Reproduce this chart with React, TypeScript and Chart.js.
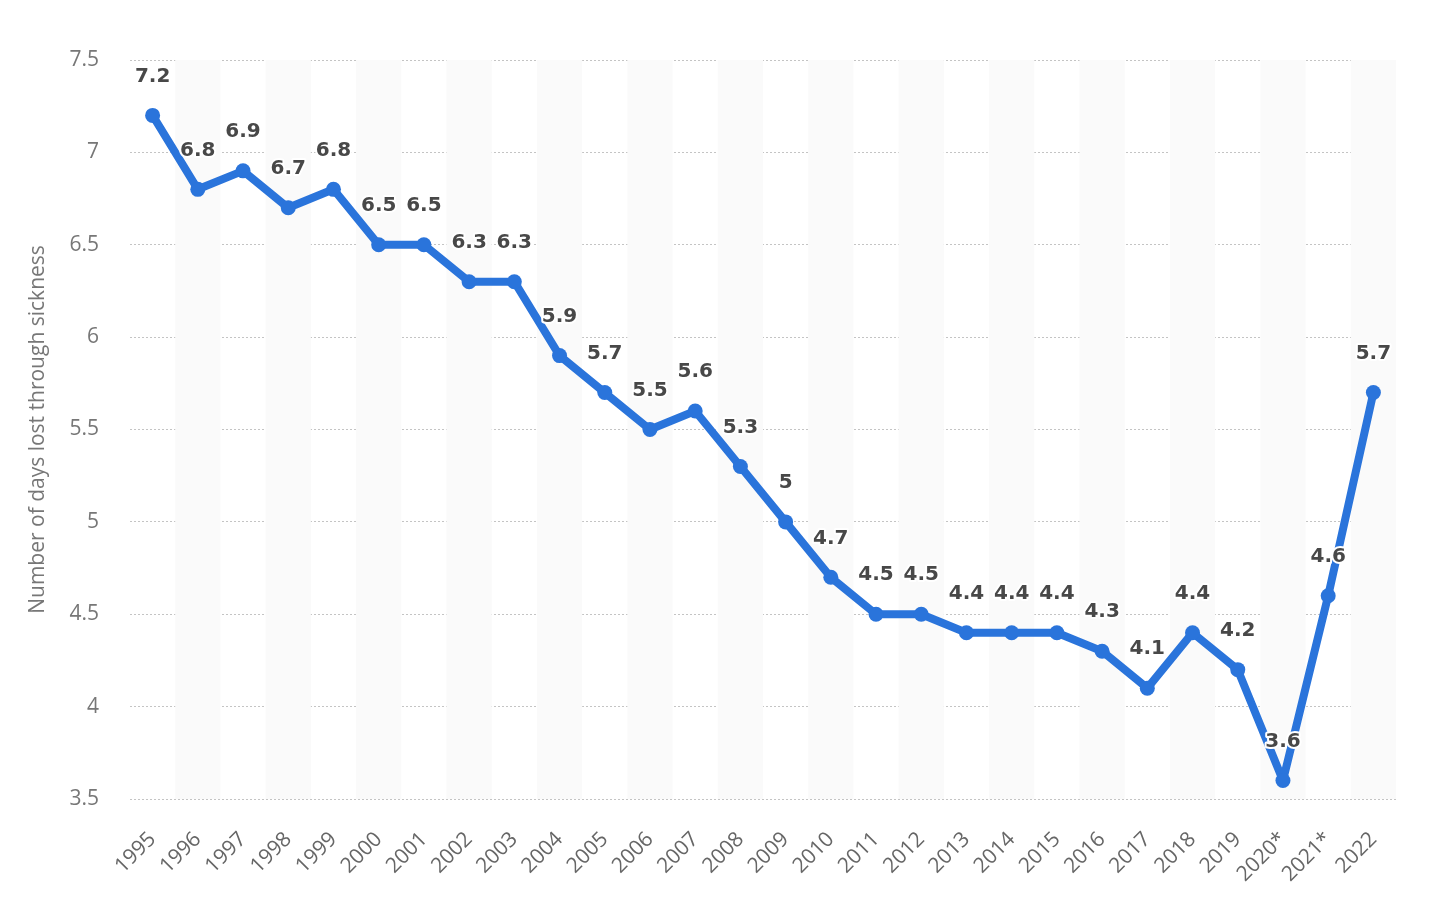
import React, { useEffect, useRef } from "react";
import { Chart, registerables } from "chart.js";

Chart.register(...registerables);

const years = [
  "1995", "1996", "1997", "1998", "1999", "2000", "2001", "2002", "2003", "2004",
  "2005", "2006", "2007", "2008", "2009", "2010", "2011", "2012", "2013", "2014",
  "2015", "2016", "2017", "2018", "2019", "2020*", "2021*", "2022",
];
const daysLost = [
  7.2, 6.8, 6.9, 6.7, 6.8, 6.5, 6.5, 6.3, 6.3, 5.9,
  5.7, 5.5, 5.6, 5.3, 5.0, 4.7, 4.5, 4.5, 4.4, 4.4,
  4.4, 4.3, 4.1, 4.4, 4.2, 3.6, 4.6, 5.7,
];
const yTitle = "Number of days lost through sickness";
const yMin = 3.5;
const yMax = 7.5;
const yStep = 0.5;

const FONT = "'Open Sans', sans-serif";
const LABEL_FONT = "'DejaVu Sans', sans-serif";

const stripePlugin = {
  id: "stripes",
  beforeDatasetsDraw(chart: any) {
    const { ctx, chartArea, scales } = chart;
    const x = scales.x;
    const n = x.ticks.length;
    const w = (chartArea.right - chartArea.left) / n;
    ctx.save();
    ctx.fillStyle = "#fafafa";
    for (let i = 1; i < n; i += 2) {
      const cx = x.getPixelForValue(i);
      ctx.fillRect(cx - w / 2, chartArea.top, w, chartArea.bottom - chartArea.top);
    }
    ctx.restore();
  },
};

const labelPlugin = {
  id: "valueLabels",
  afterDatasetsDraw(chart: any) {
    const { ctx } = chart;
    const meta = chart.getDatasetMeta(0);
    const data = chart.data.datasets[0].data;
    ctx.save();
    ctx.font = `bold 20px ${LABEL_FONT}`;
    ctx.textAlign = "center";
    ctx.textBaseline = "middle";
    ctx.lineJoin = "round";
    meta.data.forEach((pt: any, i: number) => {
      const txt = String(data[i]);
      const y = pt.y - 39;
      ctx.strokeStyle = "#ffffff";
      ctx.lineWidth = 4;
      ctx.strokeText(txt, pt.x, y);
      ctx.fillStyle = "#484848";
      ctx.fillText(txt, pt.x, y);
    });
    ctx.restore();
  },
};

export default function App() {
  const ref = useRef<HTMLCanvasElement>(null);
  useEffect(() => {
    if (!ref.current) return;
    const chart = new Chart(ref.current, {
      type: "line",
      data: {
        labels: years,
        datasets: [
          {
            data: daysLost,
            borderColor: "#2a74db",
            backgroundColor: "#2a74db",
            borderWidth: 8,
            borderJoinStyle: "round",
            borderCapStyle: "round",
            pointRadius: 7.5,
            pointHoverRadius: 7.5,
            pointBorderWidth: 0,
            tension: 0,
            fill: false,
          },
        ],
      },
      options: {
        animation: false,
        responsive: false,
        maintainAspectRatio: false,
        layout: { padding: { top: 60, right: 38, left: 25, bottom: 0 } },
        plugins: { legend: { display: false }, tooltip: { enabled: false } },
        scales: {
          x: {
            offset: true,
            grid: { display: false },
            border: { display: false },
            ticks: {
              color: "#666666",
              font: { family: FONT, size: 21 },
              maxRotation: 45,
              minRotation: 45,
              autoSkip: false,
              padding: 20,
            },
            afterFit: (scale: any) => {
              scale.height = 114;
            },
          },
          y: {
            min: yMin,
            max: yMax,
            border: { display: false, dash: [2, 2] } as any,
            grid: {
              color: "#c4c4c4",
              lineWidth: 1,
              drawTicks: false,
            },
            ticks: {
              stepSize: yStep,
              color: "#777777",
              padding: 31,
              font: { family: FONT, size: 21 },
              callback: (v: any) => String(Number(v)),
            },
            title: {
              display: true,
              text: yTitle,
              color: "#777777",
              font: { family: FONT, size: 21 },
              padding: { top: 0, bottom: 0 },
            },
            afterFit: (scale: any) => {
              scale.width = 105;
            },
          },
        },
      },
      plugins: [stripePlugin, labelPlugin],
    });
    return () => chart.destroy();
  }, []);
  return (
    <div style={{ position: "fixed", left: 0, top: 0, width: 1434, height: 913, background: "#fff" }}>
      <canvas ref={ref} width={1434} height={913} style={{ width: 1434, height: 913 }} />
    </div>
  );
}
